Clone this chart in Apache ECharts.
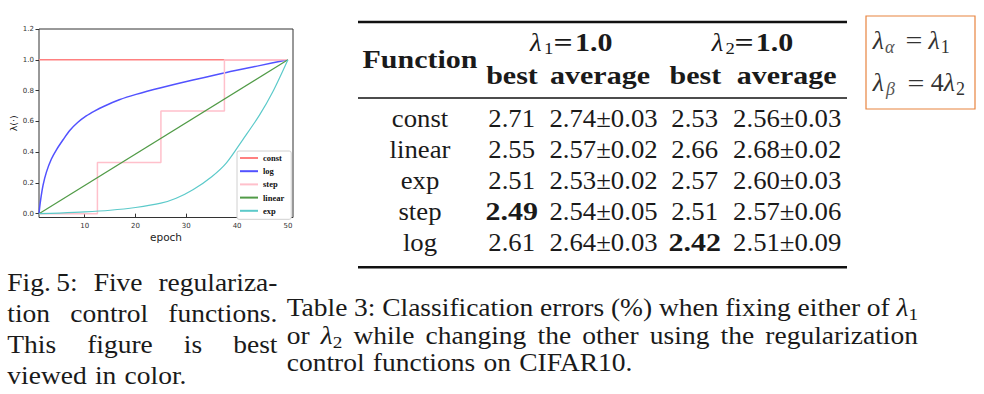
<!DOCTYPE html>
<html><head><meta charset="utf-8">
<script src="https://cdn.jsdelivr.net/npm/echarts@6/dist/echarts.min.js"></script>
<style>html,body{margin:0;padding:0;background:#fff}#c{width:984px;height:394px}</style>
</head><body><div id="c"></div>
<script>
// ---------------- chart data ----------------
const seriesNames = ['const', 'log', 'step', 'linear', 'exp'];
const constX = [1, 50];
const constY = [1, 1];
const logX = [1, 1.28, 1.8, 2.46, 3.44, 4.43, 5.74, 7.05, 8.6, 10.3, 12, 13.6, 16.8, 20.1, 25, 31.3, 37.9, 44.4, 50];
const logY = [0, 0.08, 0.185, 0.27, 0.355, 0.415, 0.48, 0.54, 0.592, 0.635, 0.668, 0.695, 0.74, 0.775, 0.818, 0.868, 0.918, 0.962, 1.0];
const stepX = [1, 12.5, 25, 37.5, 50];
const stepY = [0, 0.333, 0.667, 1, 1];
const linearX = [1, 50];
const linearY = [0, 1];
const expX = [1, 5, 10, 15, 20, 25, 28, 31.3, 35, 37.9, 41.1, 44.4, 47, 50];
const expY = [0, 0.004, 0.011, 0.022, 0.04, 0.068, 0.1, 0.155, 0.24, 0.33, 0.48, 0.64, 0.79, 1.0];
const xTickValues = [10, 20, 30, 40, 50];
const yTickValues = [0, 0.2, 0.4, 0.6, 0.8, 1.0, 1.2];

// ---------------- table data ----------------
const tableFunctions = ['const', 'linear', 'exp', 'step', 'log'];
const best1 = ['2.71', '2.55', '2.51', '2.49', '2.61'];
const avg1 = ['2.74±0.03', '2.57±0.02', '2.53±0.02', '2.54±0.05', '2.64±0.03'];
const best2 = ['2.53', '2.66', '2.57', '2.51', '2.42'];
const avg2 = ['2.56±0.03', '2.68±0.02', '2.60±0.03', '2.57±0.06', '2.51±0.09'];
const boldBest1 = [false, false, false, true, false];
const boldBest2 = [false, false, false, false, true];

const figCaptionLines = ['Fig.\u20095: Five regulariza-', 'tion control functions.', 'This figure is best', 'viewed in color.'];
const tableCaptionLines = ['Table 3: Classification errors (%) when fixing either of λ_1',
  'or λ_2 while changing the other using the regularization',
  'control functions on CIFAR10.'];

// ---------------- text helpers ----------------
const INK = '#1a1a1a';
const SERIF_FAMILY = 'Liberation Serif';
const mctx = document.createElement('canvas').getContext('2d');
function fnt(r) { return (r.italic ? 'italic ' : 'normal ') + (r.bold ? 'bold ' : 'normal ') + r.size + 'px "' + SERIF_FAMILY + '"'; }
function scaleOf(r) { return r.sx != null ? r.sx : (r.bold ? 1.2 : 1.07); }
function widthOf(r) { mctx.font = fnt(r); return mctx.measureText(r.t).width * scaleOf(r); }
const G = [];
function put(r, x, baseline, align) {
  G.push({
    type: 'text', x: x, y: baseline + (r.dy || 0) - 0.34 * r.size, scaleX: scaleOf(r), silent: true, z: 10,
    style: {
      text: r.t, fill: r.fill || INK,
      fontFamily: SERIF_FAMILY, fontSize: r.size,
      fontWeight: r.bold ? 'bold' : 'normal', fontStyle: r.italic ? 'italic' : 'normal',
      textAlign: align || 'left', textVerticalAlign: 'middle'
    }
  });
}
function runsW(runs) { return runs.reduce((s, r) => s + (r.dx || 0) + widthOf(r), 0); }
function putRuns(runs, x, baseline) {
  let cx = x;
  runs.forEach(r => { cx += (r.dx || 0); put(r, cx, baseline, 'left'); cx += widthOf(r); });
  return cx;
}
const CAP = 25, CAPSX = 1.1;
function parseWord(w) {
  if (w.indexOf('_') > 0) {
    const p = w.split('_');
    return [{ t: p[0], size: CAP, italic: true, sx: CAPSX }, { t: p[1], size: CAP * 0.7, dy: 4, sx: CAPSX }];
  }
  return [{ t: w, size: CAP, sx: CAPSX }];
}
function captionLine(str, x0, x1, baseline, just) {
  const words = str.split(' ').map(parseWord);
  const ws = words.map(runsW);
  const total = ws.reduce((a, b) => a + b, 0);
  const gap = just ? (x1 - x0 - total) / (words.length - 1) : 0.33 * CAP;
  let x = x0;
  words.forEach((w, i) => { putRuns(w, x, baseline); x += ws[i] + gap; });
}

// ---------------- table ----------------
G.push({ type: 'line', silent: true, shape: { x1: 358, y1: 22, x2: 847, y2: 22 }, style: { stroke: '#111', lineWidth: 2.4 } });
G.push({ type: 'line', silent: true, shape: { x1: 358, y1: 98, x2: 847, y2: 98 }, style: { stroke: '#111', lineWidth: 1.5 } });
G.push({ type: 'line', silent: true, shape: { x1: 358, y1: 267.3, x2: 847, y2: 267.3 }, style: { stroke: '#111', lineWidth: 2.4 } });

const TS = 25;
put({ t: 'Function', size: TS, bold: true }, 420, 67.5, 'center');
putRuns([{ t: 'λ', size: TS, italic: true }], 530, 51);
putRuns([{ t: '1', size: 17.5, dy: 3.5 }], 544, 51);
put({ t: '=', size: TS, bold: true, sx: 1.35 }, 563, 51, 'center');
putRuns([{ t: '1.0', size: TS, bold: true }], 575, 51);
putRuns([{ t: 'λ', size: TS, italic: true }], 711.7, 51);
putRuns([{ t: '2', size: 17.5, dy: 3.5 }], 725.5, 51);
put({ t: '=', size: TS, bold: true, sx: 1.35 }, 744.2, 51, 'center');
putRuns([{ t: '1.0', size: TS, bold: true }], 755.8, 51);
put({ t: 'best', size: TS, bold: true }, 512, 83.5, 'center');
put({ t: 'average', size: TS, bold: true }, 600, 83.5, 'center');
put({ t: 'best', size: TS, bold: true }, 695.3, 83.5, 'center');
put({ t: 'average', size: TS, bold: true }, 786.7, 83.5, 'center');

const rowBase = [127.3, 158.3, 189.3, 220.3, 251.3];
tableFunctions.forEach((f, i) => {
  const b = rowBase[i];
  put({ t: f, size: TS }, 420, b, 'center');
  put({ t: best1[i], size: TS, bold: boldBest1[i] }, 511.7, b, 'center');
  put({ t: avg1[i], size: TS }, 603.5, b, 'center');
  put({ t: best2[i], size: TS, bold: boldBest2[i] }, 694.7, b, 'center');
  put({ t: avg2[i], size: TS }, 787.2, b, 'center');
});

// ---------------- captions ----------------
figCaptionLines.forEach((ln, i) => captionLine(ln, 7.3, 277.5, 291.3 + 31.1 * i, i < 3));
const tcBase = [316.7, 344.2, 371.2];
tableCaptionLines.forEach((ln, i) => captionLine(ln, 286.7, 918, tcBase[i], i < 2));

// ---------------- boxed equations ----------------
G.push({ type: 'rect', silent: true, shape: { x: 866, y: 16, width: 109, height: 93 }, style: { fill: 'none', stroke: '#e8843f', lineWidth: 1.2 } });
const BX = '#333', BS = 26, BSS = 18;
putRuns([{ t: 'λ', size: BS, italic: true, fill: BX, sx: 1 }, { t: 'α', size: BSS, italic: true, dy: 4, fill: '#555', dx: 1, sx: 1 }], 872.7, 49.3);
put({ t: '=', size: BS, fill: BX, sx: 1.15 }, 914, 49.3, 'center');
putRuns([{ t: 'λ', size: BS, italic: true, fill: BX, sx: 1 }, { t: '1', size: BSS, dy: 3.4, fill: BX, dx: 1, sx: 1 }], 928.5, 49.3);
putRuns([{ t: 'λ', size: BS, italic: true, fill: BX, sx: 1 }, { t: 'β', size: BSS, italic: true, dy: 3.5, fill: '#555', dx: 2, sx: 1 }], 872.7, 91.7);
put({ t: '=', size: BS, fill: BX, sx: 1.15 }, 915.8, 91.7, 'center');
putRuns([{ t: '4', size: BS, fill: BX, sx: 1 }, { t: 'λ', size: BS, italic: true, fill: BX, sx: 1 }, { t: '2', size: BSS, dy: 3.4, fill: BX, dx: 1, sx: 1 }], 930.7, 91.7);

// ---------------- chart ----------------
function pairs(xs, ys) { return xs.map((x, i) => [x, ys[i]]); }
const colors = { const: '#ff8080', log: '#5252ff', step: '#ffc0cb', linear: '#519b47', exp: '#5ccaca' };
function lineSeries(name, xs, ys, extra) {
  return Object.assign({
    name: name, type: 'line', data: pairs(xs, ys), showSymbol: false, symbol: 'none', silent: true,
    lineStyle: { width: 1.5, color: colors[name] }, itemStyle: { color: colors[name] }
  }, extra || {});
}
const axisFont = 'DejaVu Sans';
const option = {
  animation: false,
  backgroundColor: '#fff',
  grid: { left: 39, top: 29, width: 254, height: 188.5, show: true, borderColor: '#333', borderWidth: 1, backgroundColor: 'rgba(0,0,0,0)' },
  xAxis: {
    type: 'value', min: 1, max: 51,
    axisLine: { show: false }, splitLine: { show: false },
    axisTick: { show: true, customValues: xTickValues, length: 3.5, lineStyle: { color: '#333' } },
    axisLabel: { customValues: xTickValues, fontSize: 7, color: '#333', margin: 5, fontFamily: axisFont },
    name: 'epoch', nameLocation: 'middle', nameGap: 14,
    nameTextStyle: { fontSize: 10.5, fontFamily: axisFont, color: '#222' }
  },
  yAxis: {
    type: 'value', min: -0.025, max: 1.2,
    axisLine: { show: false }, splitLine: { show: false },
    axisTick: { show: true, customValues: yTickValues, length: 3.5, lineStyle: { color: '#333' } },
    axisLabel: { customValues: yTickValues, fontSize: 7, color: '#333', margin: 5, fontFamily: axisFont, formatter: v => v.toFixed(1) },
    name: 'λ(·)', nameLocation: 'middle', nameGap: 20,
    nameTextStyle: { fontSize: 9.5, fontFamily: axisFont, color: '#222' }
  },
  legend: {
    data: seriesNames, orient: 'vertical', left: 237, top: 151,
    padding: [2.5, 7, 4, 3], itemWidth: 18, itemHeight: 2, itemGap: 4.2, icon: 'rect',
    backgroundColor: '#fff', borderColor: '#d0d0d0', borderWidth: 1, borderRadius: 2,
    selectedMode: false,
    textStyle: { fontFamily: 'Liberation Serif', fontWeight: 'bold', fontSize: 8.5, color: '#111', lineHeight: 8 }
  },
  series: [
    lineSeries('const', constX, constY),
    lineSeries('log', logX, logY, { smooth: 0.3 }),
    lineSeries('step', stepX, stepY, { step: 'end' }),
    lineSeries('linear', linearX, linearY, { lineStyle: { width: 1.2, color: colors.linear } }),
    lineSeries('exp', expX, expY, { smooth: 0.3, lineStyle: { width: 1.2, color: colors.exp } })
  ],
  graphic: { elements: G }
};
const chart = echarts.init(document.getElementById('c'), null, { renderer: 'svg' });
chart.setOption(option);
</script>
</body></html>
